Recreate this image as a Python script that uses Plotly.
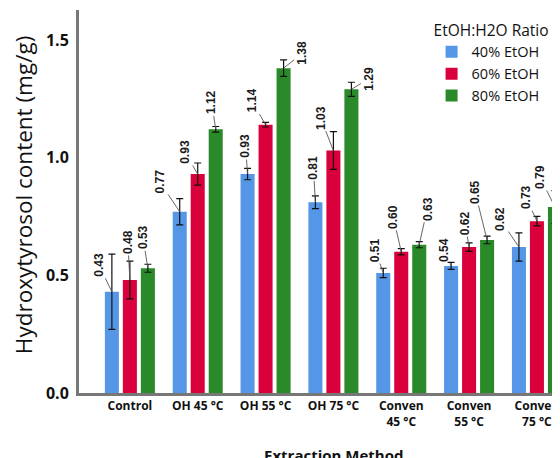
import plotly.graph_objects as go

categories = ["Control", "OH 45 °C", "OH 55 °C", "OH 75 °C",
              "Conven<br>45 °C", "Conven<br>55 °C", "Conven<br>75 °C"]
series_names = ["40% EtOH", "60% EtOH", "80% EtOH"]
values_40 = [0.43, 0.77, 0.93, 0.81, 0.51, 0.54, 0.62]
values_60 = [0.48, 0.93, 1.14, 1.03, 0.60, 0.62, 0.73]
values_80 = [0.53, 1.12, 1.38, 1.29, 0.63, 0.65, 0.79]
errors_40 = [0.16, 0.056, 0.024, 0.027, 0.02, 0.015, 0.06]
errors_60 = [0.08, 0.047, 0.01, 0.08, 0.013, 0.018, 0.02]
errors_80 = [0.017, 0.012, 0.035, 0.03, 0.013, 0.016, 0.07]
# label offsets (pixels) from bar top to label centre
label_dx_40 = [-13, -20, -2, -2, -8, -7, -19]
label_dy_40 = [-27, -30, -28, -35, -23, -16, -28]
label_dx_60 = [-2, -13, -14, -13, -8, -4, -11]
label_dy_60 = [-38, -22, -24, -33, -35, -24, -24]
label_dx_80 = [-5, -4, 19, 18, 8, -12, -15]
label_dy_80 = [-31, -27, -15, -11, -36, -48, -30]

colors = ["#5597E6", "#D9003B", "#2A8A2A"]
values = [values_40, values_60, values_80]
errors = [errors_40, errors_60, errors_80]
ldx = [label_dx_40, label_dx_60, label_dx_80]
ldy = [label_dy_40, label_dy_60, label_dy_80]

fig = go.Figure()
for name, vals, errs, col in zip(series_names, values, errors, colors):
    fig.add_trace(go.Bar(
        name=name, x=categories, y=vals, marker_color=col,
        marker_line_width=0,
        error_y=dict(type="data", array=errs, color="#111111",
                     thickness=1.2, width=3.5),
    ))

bargap = 0.204
slot = (1 - bargap) / 3
annotations = []
for s in range(3):
    off = (s - 1) * slot
    for i, v in enumerate(values[s]):
        annotations.append(dict(
            x=i + off, y=v, xref="x", yref="y",
            text=f"{v:.2f}", textangle=-90, showarrow=True,
            arrowhead=0, arrowwidth=0.9, arrowcolor="#555555",
            ax=ldx[s][i], ay=ldy[s][i],
            font=dict(family="Liberation Sans", size=12, color="#1a1a1a", weight="bold"),
        ))

annotations.append(dict(
    text="Hydroxytyrosol content (mg/g)", textangle=-90,
    x=-0.114, y=0.517, xref="paper", yref="paper",
    xanchor="center", yanchor="middle", showarrow=False,
    font=dict(family="Open Sans", size=22.5, color="#111111"),
))
annotations.append(dict(
    text="Extraction Method", x=0.53, y=-0.162, xref="paper", yref="paper",
    xanchor="center", yanchor="middle", showarrow=False,
    font=dict(family="Open Sans", size=15, color="#111111", weight="bold"),
))

fig.update_layout(
    width=552, height=450,
    margin=dict(l=71, r=0, t=2, b=65),
    paper_bgcolor="white", plot_bgcolor="white",
    barmode="group", bargap=bargap, bargroupgap=0.22,
    annotations=annotations,
    showlegend=True,
    legend=dict(
        x=0.733, y=0.985, xanchor="left", yanchor="top",
        title=dict(text="EtOH:H2O Ratio", font=dict(family="Open Sans", size=15.5, color="#111111")),
        font=dict(family="Open Sans", size=14.5, color="#111111"),
        bgcolor="rgba(0,0,0,0)", tracegroupgap=0,
    ),
    xaxis=dict(
        range=[-0.75, 6.34], showline=True, linecolor="#777777", linewidth=3,
        showgrid=False, ticks="", zeroline=False, layer="above traces",
        tickfont=dict(family="Open Sans", size=12, color="#111111", weight="bold"),
    ),
    yaxis=dict(
        range=[0, 1.627], showline=True, linecolor="#777777", linewidth=3,
        showgrid=False, ticks="", zeroline=False, layer="above traces",
        tickvals=[0.0, 0.5, 1.0, 1.5], ticktext=["0.0", "0.5", "1.0", "1.5"],
        tickfont=dict(family="Open Sans", size=16, color="#111111", weight="bold"),
        ticklabelstandoff=4,
    ),
)

fig.write_html("out.html")
